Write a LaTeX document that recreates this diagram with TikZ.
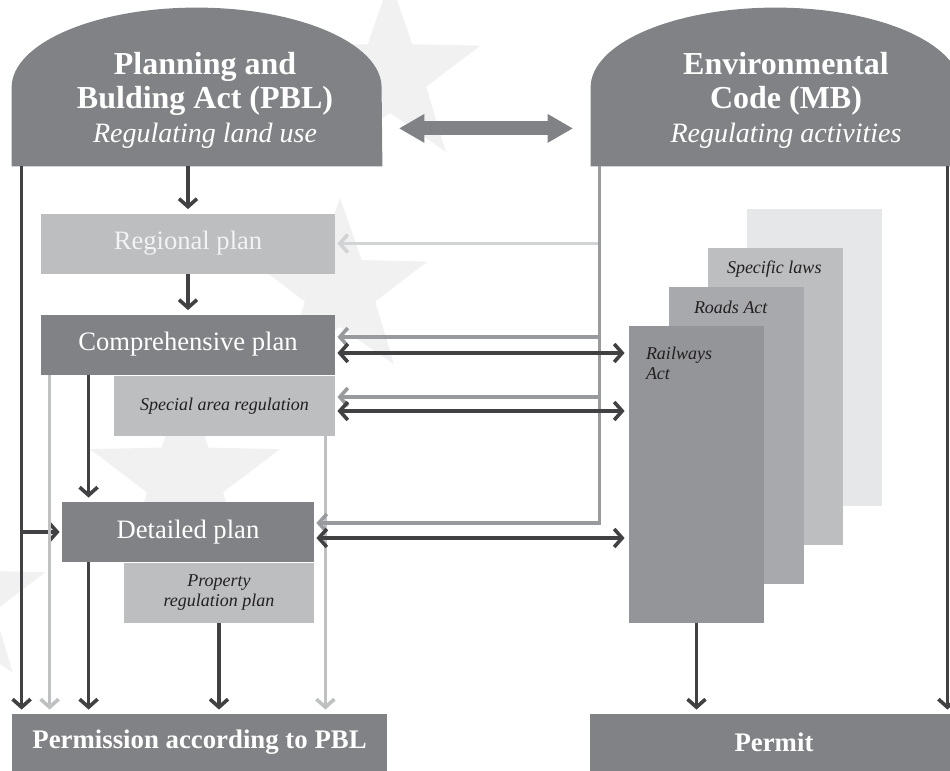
\documentclass[tikz,border=0pt]{standalone}
\usepackage{fontspec}
\setmainfont{Liberation Serif}
\usetikzlibrary{positioning,arrows.meta}

\definecolor{hdrgray}{RGB}{128,130,133}
\definecolor{boxlight}{RGB}{188,190,192}
\definecolor{boxpale}{RGB}{230,231,232}
\definecolor{roadsgray}{RGB}{167,169,172}
\definecolor{railgray}{RGB}{147,149,152}
\definecolor{linedark}{RGB}{65,64,66}
\definecolor{linemid}{RGB}{152,154,157}
\definecolor{linelight}{RGB}{190,192,194}
\definecolor{linepale}{RGB}{209,211,212}
\definecolor{starcol}{RGB}{241,241,242}
\definecolor{txtdark}{RGB}{35,31,32}
\definecolor{txtpale}{RGB}{243,243,243}

\begin{document}
\begin{tikzpicture}[x=0.5pt,y=-0.5pt,
  every node/.style={inner sep=0pt},
  hdrbox/.style={rectangle,minimum width=185pt,minimum height=39pt},
  hdrtext/.style={text=white,align=center,font=\fontsize{16}{17}\selectfont\bfseries},
  planbox/.style={rectangle,fill=hdrgray,text=white,minimum height=30pt,font=\fontsize{13.3}{16}\selectfont},
  regbox/.style={planbox,fill=boxlight,text=txtpale},
  subbox/.style={rectangle,fill=boxlight,text=txtdark,minimum height=30pt,align=center,font=\fontsize{9}{10}\selectfont\itshape},
  lawbox/.style={rectangle,minimum width=67.5pt,minimum height=148.5pt},
  lawtext/.style={text=txtdark,align=left,font=\fontsize{9}{10}\selectfont\itshape},
  result/.style={rectangle,fill=hdrgray,text=white,minimum height=28.5pt,font=\fontsize{13.4}{16}\selectfont\bfseries},
  dline/.style={draw=linedark,line width=1.8pt},
  mline/.style={draw=linemid,line width=1.8pt},
  lline/.style={draw=linelight,line width=1.8pt},
  pline/.style={draw=linepale,line width=1.8pt},
  fatarrow/.style={draw=hdrgray,line width=7pt,
    {Triangle[length=12.5pt,width=14.5pt,line width=0pt]}-{Triangle[length=12.5pt,width=14.5pt,line width=0pt]}},
  >={Straight Barb[length=4pt,width=9pt]}
]
\clip (0,0) rectangle (950,771);

% STARS
\foreach \cx/\cy/\ro/\ri in {390/75/47.5pt/19pt, 340/290/46pt/18.5pt, 185/480/50pt/20pt, -40/600/45pt/18pt}
  \fill[starcol] (\cx,\cy) +(90:\ro) \foreach \a in {0,...,4} {-- +(126+72*\a:\ri) -- +(162+72*\a:\ro)} -- cycle;

% HEADERS
\node[hdrbox] (pbl) at (197,127) {};
\fill[hdrgray] (pbl.south west) -- (pbl.north west) arc[start angle=180,end angle=0,x radius=92.5pt,y radius=40pt] -- (pbl.south east) -- cycle;
\node[hdrtext] (pbltxt) at (205,100) {Planning and\\Bulding Act (PBL)\\{\mdseries\itshape\fontsize{14}{17}\selectfont Regulating land use}};

\node[hdrbox] (mb) at (776,127) {};
\fill[hdrgray] (mb.south west) -- (mb.north west) arc[start angle=180,end angle=0,x radius=92.5pt,y radius=40pt] -- (mb.south east) -- cycle;
\node[hdrtext] (mbtxt) at (786,100) {Environmental\\Code (MB)\\{\mdseries\itshape\fontsize{14}{17}\selectfont Regulating activities}};

\draw[fatarrow] ([shift={(8.5pt,19pt)}]pbl.south east) -- ([shift={(-9pt,19pt)}]mb.south west);

% PLANS (PBL)
\node[regbox,minimum width=147pt] (regional) at (188,243.5) {Regional plan};
\node[planbox,minimum width=147pt] (comp) at (188,344.5) {Comprehensive plan};
\node[subbox,minimum width=110.5pt] (special) at (224.5,406) {Special area regulation};
\node[planbox,minimum width=126pt] (detailed) at (188,532) {Detailed plan};
\node[subbox,minimum width=95pt] (property) at (219,593) {Property\\regulation plan};

% RESULTS
\node[result,minimum width=187.5pt] (permission) at (199.5,742.5) {Permission according to PBL};
\node[result,minimum width=184pt] (permit) at (774,742.5) {Permit};

% LAWS (MB)
\node[lawbox,fill=boxpale] (lawsbg) at (814.5,357.5) {};
\node[lawbox,fill=boxlight] (laws) at ([shift={(-19.5pt,-19.5pt)}]lawsbg.center) {};
\node[lawbox,fill=roadsgray] (roads) at ([shift={(-19.5pt,-19.5pt)}]laws.center) {};
\node[lawbox,fill=railgray] (rail) at ([shift={(-20pt,-19.5pt)}]roads.center) {};
\node[lawtext] (lawslbl) [below right=6.5pt and 9.5pt of laws.north west] {Specific laws};
\node[lawtext] (roadslbl) [below right=7pt and 12.5pt of roads.north west] {Roads Act};
\node[lawtext] (raillbl) [below right=10.5pt and 8.5pt of rail.north west] {Railways\\Act};

% PBL CONNECTORS
\coordinate (pblleft) at ([xshift=5pt]pbl.south west);
\draw[dline,->,shorten >=2pt] (pblleft) -- (pblleft |- permission.north);
\draw[dline,->,shorten >=1pt] (pblleft |- detailed.west) -- (detailed.west);
\draw[dline,->,shorten >=2pt] (regional.north |- pbl.south) -- (regional.north);
\draw[dline,->,shorten >=2pt] (regional) -- (comp);

\coordinate (cd) at ([xshift=13.5pt]detailed.north west);
\draw[dline,->,shorten >=2pt] (cd |- comp.south) -- (cd);
\coordinate (dp) at ([xshift=13.5pt]detailed.south west);
\draw[dline,->,shorten >=2pt] (dp) -- (dp |- permission.north);
\draw[dline,->,shorten >=2pt] (property.south) -- (property.south |- permission.north);

\coordinate (cl) at ([xshift=4.5pt]comp.south west);
\draw[lline,->,shorten >=2pt] (cl) -- (cl |- permission.north);
\coordinate (sl) at ([xshift=-5pt]special.south east);
\draw[lline,->,shorten >=2pt] (sl) -- (sl |- permission.north);

% MB CONNECTORS
\coordinate (mbleft) at ([xshift=4.5pt]mb.south west);
\coordinate (dhi) at ([yshift=4.5pt]detailed.east);
\coordinate (chi) at ([yshift=3.75pt]comp.east);
\coordinate (shi) at ([yshift=4.5pt]special.east);
\draw[pline,->,shorten >=1pt] (mbleft |- regional.east) -- (regional.east);
\draw[mline,->,shorten >=1pt] (mbleft) |- (dhi);
\draw[mline,->,shorten >=1pt] (mbleft |- chi) -- (chi);
\draw[mline,->,shorten >=1pt] (mbleft |- shi) -- (shi);

\coordinate (clo) at ([yshift=-4.25pt]comp.east);
\coordinate (slo) at ([yshift=-2.5pt]special.east);
\coordinate (dlo) at ([yshift=-3pt]detailed.east);
\draw[dline,<->,shorten <=1pt,shorten >=2pt] (clo) -- (clo -| rail.west);
\draw[dline,<->,shorten <=1pt,shorten >=2pt] (slo) -- (slo -| rail.west);
\draw[dline,<->,shorten <=1pt,shorten >=2pt] (dlo) -- (dlo -| rail.west);

\coordinate (mbright) at ([xshift=-7pt]mb.south east);
\draw[dline,->,shorten >=2pt] (mbright) -- (mbright |- permit.north);
\draw[dline,->,shorten >=2pt] (rail.south) -- (rail.south |- permit.north);

\end{tikzpicture}
\end{document}
